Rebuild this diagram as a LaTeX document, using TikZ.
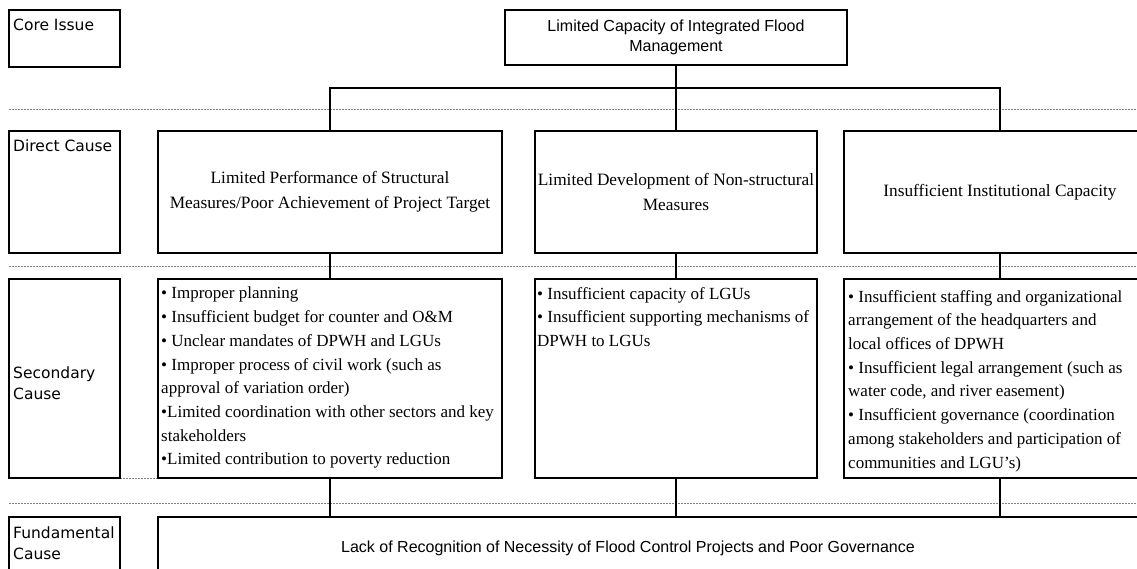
\documentclass[tikz,border=0pt]{standalone}
\usepackage{fontspec}
\setmainfont{Liberation Serif}
\newfontfamily\gothic{Liberation Sans}
\newfontfamily\rowfont{DejaVu Sans}
\usetikzlibrary{positioning}

\tikzset{
  cbox/.style={draw,line width=2.4pt,inner sep=0pt,outer sep=0pt},
  rowlabel/.style={anchor=north west,inner sep=0pt,align=left,font=\rowfont\fontsize{15.5}{21}\selectfont},
  cause/.style={align=center,font=\fontsize{17.3}{24.5}\selectfont},
  bullets/.style={anchor=north west,align=left,inner sep=0pt,font=\fontsize{17}{23.7}\selectfont},
  gothictext/.style={align=center,font=\gothic\fontsize{16}{20}\selectfont},
  link/.style={line width=1.9pt},
  divider/.style={gray,line width=1pt,dash pattern=on 2pt off 1pt},
}

\begin{document}
\begin{tikzpicture}[x=1pt,y=-1pt]
    \clip (0,0) rectangle (1137,569);
    \fill[white] (0,0) rectangle (1137,569);

    \draw[divider] (9,110) -- (1137,110);
    \draw[divider] (9,267) -- (1137,267);
    \draw[divider] (9,503) -- (1137,503);
    \draw[divider] (120,478) -- (158,478);

    \node[cbox,minimum width=111,minimum height=57] (coreL) at (64.5,38.5) {};
    \node[cbox,minimum width=111,minimum height=122] (directL) at (64.5,192) {};
    \node[cbox,minimum width=111,minimum height=199] (secL) at (64.5,378.5) {};
    \node[cbox,minimum width=111,minimum height=103] (fundL) at (64.5,568.5) {};
    \node[rowlabel] (coreLt) at ([shift={(4,9)}]coreL.north west) {Core Issue};
    \node[rowlabel] (directLt) at ([shift={(4,9)}]directL.north west) {Direct Cause};
    \node[rowlabel,anchor=west] (secLt) at ([shift={(4,5)}]secL.west) {Secondary\\Cause};
    \node[rowlabel] (fundLt) at ([shift={(4,10)}]fundL.north west) {Fundamental\\Cause};

    \node[cbox,gothictext,minimum width=342,minimum height=55] (core) at (676,37.5) {Limited Capacity of Integrated Flood\\Management};

    \node[cbox,cause,minimum width=344,minimum height=122] (d1) at (330,192) {Limited Performance of Structural\\Measures/Poor Achievement of Project Target};
    \node[cbox,cause,minimum width=282,minimum height=122] (d2) at (676,192) {Limited Development of Non-structural\\Measures};
    \node[cbox,cause,minimum width=312,minimum height=122] (d3) at (1000,192) {Insufficient Institutional Capacity};

    \node[cbox,minimum width=344,minimum height=199] (s1) at (330,378.5) {};
    \node[cbox,minimum width=282,minimum height=199] (s2) at (676,378.5) {};
    \node[cbox,minimum width=312,minimum height=199] (s3) at (1000,378.5) {};
    \node[bullets] (s1t) at ([shift={(3,8)}]s1.north west) {• Improper planning\\• Insufficient budget for counter and O\&M\\• Unclear mandates of DPWH and LGUs\\• Improper process of civil work (such as\\approval of variation order)\\•Limited coordination with other sectors and key\\stakeholders\\•Limited contribution to poverty reduction};
    \node[bullets] (s2t) at ([shift={(2,8)}]s2.north west) {• Insufficient capacity of LGUs\\• Insufficient supporting mechanisms of\\DPWH to LGUs};
    \node[bullets] (s3t) at ([shift={(4,11)}]s3.north west) {• Insufficient staffing and organizational\\arrangement of the headquarters and\\local offices of DPWH\\• Insufficient legal arrangement (such as\\water code, and river easement)\\• Insufficient governance (coordination\\among stakeholders and participation of\\communities and LGU's)};

    \node[cbox,minimum width=1012,minimum height=103] (fund) at (664,568.5) {};
    \node[gothictext] (fundt) at (628,548) {Lack of Recognition of Necessity of Flood Control Projects and Poor Governance};

    \coordinate (hub) at ([yshift=-23pt]core.south);
    \draw[link] (core.south) -- (d2.north);
    \draw[link] (d1.north) |- (hub) -| (d3.north);
    \foreach \i in {1,2,3} {
        \draw[link] (d\i.south) -- (s\i.north);
        \draw[link] (s\i.south) -- (s\i.south |- fund.north);
    }
\end{tikzpicture}
\end{document}
